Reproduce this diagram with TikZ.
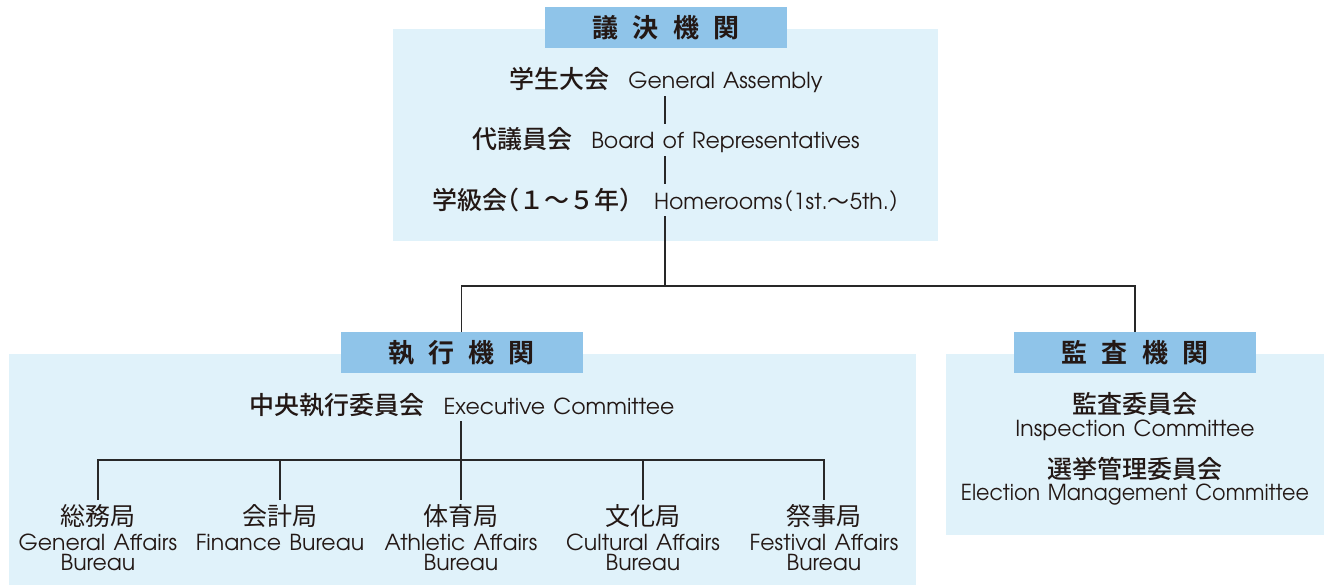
\documentclass[tikz,border=0pt]{standalone}
\usepackage{fontspec}
\newfontfamily\jp{Noto Sans CJK JP}[BoldFont={* Bold}]
\newfontfamily\jpm{Noto Sans CJK JP}[UprightFont={* Medium},BoldFont={* Bold}]
\newfontfamily\jpmh{Noto Sans CJK JP}[UprightFont={* Medium},RawFeature=+halt]
\newfontfamily\jph{Noto Sans CJK JP}[RawFeature=+halt]
\newfontfamily\en{texgyreadventor-regular.otf}[WordSpace=1.35]
\definecolor{hdrblue}{RGB}{143,196,233}
\definecolor{panelblue}{RGB}{224,242,250}
\definecolor{ink}{RGB}{35,24,21}
\definecolor{linec}{RGB}{40,40,40}
\newcommand{\hsp}{\hspace{0.55em}}
\newcommand{\gp}{\hspace{9.5pt}}
\tikzset{
  hdr/.style={fill=hdrblue, inner sep=0pt, minimum width=121pt, minimum height=20.5pt,
    text=ink, font=\jp\bfseries\fontsize{13}{13}\selectfont},
  panel/.style={fill=panelblue},
  row/.style={inner sep=0pt, minimum height=16pt, text=ink, font=\fontsize{12.5}{14}\selectfont},
  jpl/.style={inner sep=0pt, minimum height=16pt, text=ink, font=\jp\fontsize{12.5}{14}\selectfont},
  jpb/.style={inner sep=0pt, text=ink, font=\jpm\fontsize{12.5}{14}\selectfont},
  enl/.style={inner sep=0pt, text=ink, align=center, font=\en\fontsize{11}{10}\selectfont},
  conn/.style={draw=linec, line width=0.55pt}
}
\begin{document}
\begin{tikzpicture}[x=0.5pt,y=-0.5pt]
\useasboundingbox (0,0) rectangle (1325,585);
% panels
\fill[panel] (393,29) rectangle (938,241);
\fill[panel] (9,354) rectangle (916,585);
\fill[panel] (946,354) rectangle (1324,535);
% headers
\node[hdr] (h1) at (666,27.5) {議\hsp{}決\hsp{}機\hsp{}関};
\node[hdr] (h2) at (461.5,352.5) {執\hsp{}行\hsp{}機\hsp{}関};
\node[hdr] (h3) at (1135,352.5) {監\hsp{}査\hsp{}機\hsp{}関};
% top rows
\coordinate (sp) at (665,286);
\node[row] (r1) at (666,80) {{\jpm 学生大会}\gp{\en\fontsize{11}{12}\selectfont General Assembly}};
\node[row] (r2) at (666,140) {{\jpm 代議員会}\gp{\en\fontsize{11}{12}\selectfont Board of Representatives}};
\node[row] (r3) at (666,200) {{\jpmh 学級会（１～５年）}\hspace{11pt}{\en\fontsize{11}{12}\selectfont Homerooms{\jph （}1st.{\jp ～}5th.{\jph ）}}};
\draw[conn] (r1.south -| sp) -- (r2.north -| sp);
\draw[conn] (r2.south -| sp) -- (r3.north -| sp);
\draw[conn] (r3.south -| sp) -- (sp);
\draw[conn] (h2.north) |- (sp) -| (h3.north);
% executive
\node[row] (ex) at (462,405) {{\jpm 中央執行委員会}\gp{\en\fontsize{11}{12}\selectfont Executive Committee}};
\node[jpl] (b1) at (98,516) {総務局};
\node[jpl] (b2) at (280,516) {会計局};
\node[jpl] (b3) at (461,516) {体育局};
\node[jpl] (b4) at (643,516) {文化局};
\node[jpl] (b5) at (824,516) {祭事局};
\node[enl] (e1) at (98,552) {General Affairs\\Bureau};
\node[enl] (e2) at (280,542) {Finance Bureau};
\node[enl] (e3) at (461,552) {Athletic Affairs\\Bureau};
\node[enl] (e4) at (643,552) {Cultural Affairs\\Bureau};
\node[enl] (e5) at (824,552) {Festival Affairs\\Bureau};
\coordinate (bj) at (461,460);
\draw[conn] (ex.south -| bj) -- (b3.north);
\draw[conn] (b1.north) |- (b5.north |- bj) -- (b5.north);
\draw[conn] (b2.north) -- (b2.north |- bj);
\draw[conn] (b4.north) -- (b4.north |- bj);
% audit
\node[jpb] (a1) at (1135,404) {監査委員会};
\node[enl] (a2) at (1135,430) {Inspection Committee};
\node[jpb] (a3) at (1135,469) {選挙管理委員会};
\node[enl] (a4) at (1135,495) {\addfontfeatures{FakeStretch=0.94}Election Management Committee};
\end{tikzpicture}
\end{document}
